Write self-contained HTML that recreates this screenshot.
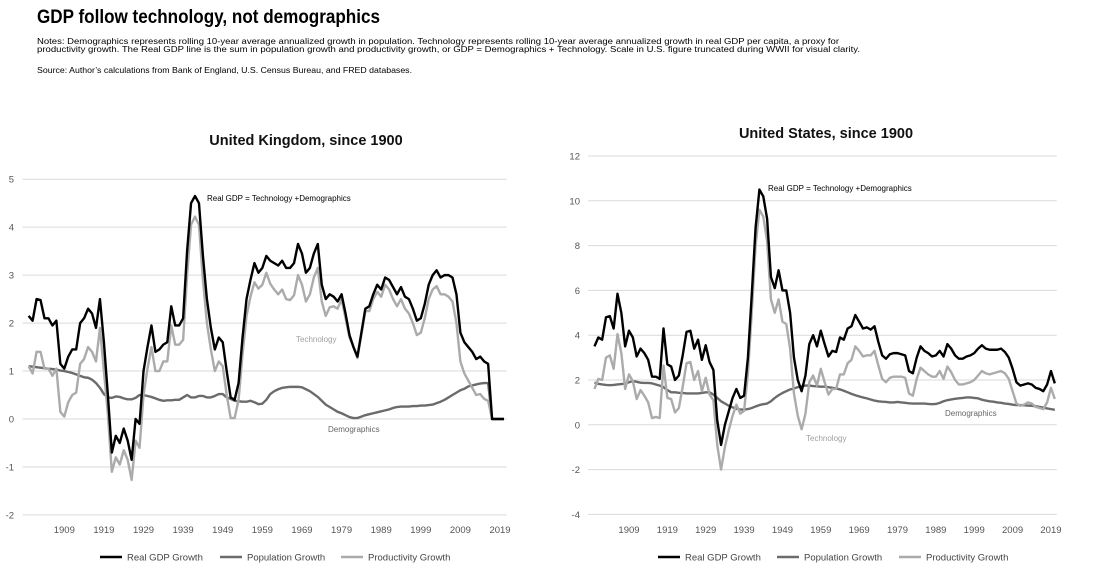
<!DOCTYPE html>
<html><head><meta charset="utf-8"><style>
html,body{margin:0;padding:0;background:#fff;}
svg{display:block;font-family:"Liberation Sans",sans-serif;}
</style></head><body>
<svg id="root" width="1100" height="571" viewBox="0 0 1100 571">
<text x="37" y="23" font-size="19" font-weight="bold" textLength="343" lengthAdjust="spacingAndGlyphs">GDP follow technology, not demographics</text>
<text x="37" y="44" font-size="8.6" textLength="802" lengthAdjust="spacingAndGlyphs">Notes: Demographics represents rolling 10-year average annualized growth in population. Technology represents rolling 10-year average annualized growth in real GDP per capita, a proxy for</text>
<text x="37" y="52" font-size="8.6" textLength="823" lengthAdjust="spacingAndGlyphs">productivity growth. The Real GDP line is the sum in population growth and productivity growth, or GDP = Demographics + Technology. Scale in U.S. figure truncated during WWII for visual clarity.</text>
<text x="37" y="73" font-size="8.6" textLength="375" lengthAdjust="spacingAndGlyphs">Source: Author’s calculations from Bank of England, U.S. Census Bureau, and FRED databases.</text>
<g id="uk"></g>
<g id="us"></g>
</svg>
<script>
const years = []; for (let y = 1900; y <= 2020; y++) years.push(y);
const xTickLabels = [1909,1919,1929,1939,1949,1959,1969,1979,1989,1999,2009,2019];
const ukYTicks = [5,4,3,2,1,0,-1,-2];
const usYTicks = [12,10,8,6,4,2,0,-2,-4];
const ukGdp = [2.15,2.05,2.5,2.48,2.1,2.1,1.95,2.05,1.15,1.05, 1.3,1.45,1.45,2.0,2.1,2.3,2.2,1.9,2.5,1.6, 0.5,-0.7,-0.35,-0.5,-0.2,-0.45,-0.85,0,-0.1,1.0, 1.5,1.95,1.4,1.45,1.55,1.6,2.35,1.95,1.95,2.1, 3.5,4.5,4.65,4.5,3.4,2.5,1.9,1.45,1.7,1.6, 1.0,0.45,0.4,0.75,1.7,2.5,2.9,3.25,3.05,3.15, 3.4,3.3,3.25,3.2,3.3,3.15,3.15,3.25,3.65,3.45, 3.05,3.15,3.45,3.65,2.8,2.5,2.6,2.55,2.45,2.6, 2.2,1.75,1.5,1.3,1.8,2.3,2.35,2.6,2.8,2.7, 2.95,2.9,2.75,2.6,2.75,2.55,2.5,2.3,2.05,2.1, 2.4,2.8,3.0,3.1,2.95,3.0,3.0,2.95,2.6,1.8, 1.6,1.5,1.4,1.25,1.3,1.2,1.15,0,0,0,0];
const ukDemo = [1.1,1.09,1.08,1.07,1.06,1.05,1.04,1.03,1.01,1.0, 0.98,0.96,0.93,0.9,0.87,0.86,0.82,0.75,0.65,0.52, 0.45,0.44,0.47,0.46,0.43,0.41,0.41,0.44,0.5,0.5, 0.48,0.46,0.43,0.4,0.38,0.39,0.39,0.4,0.4,0.45, 0.5,0.45,0.45,0.48,0.48,0.45,0.45,0.48,0.52,0.52, 0.45,0.42,0.38,0.37,0.36,0.36,0.38,0.35,0.31,0.32, 0.4,0.52,0.58,0.62,0.65,0.66,0.67,0.67,0.67,0.66, 0.62,0.58,0.52,0.46,0.38,0.3,0.25,0.2,0.15,0.12, 0.08,0.04,0.02,0.02,0.05,0.08,0.1,0.12,0.14,0.16, 0.18,0.2,0.23,0.25,0.26,0.26,0.26,0.27,0.27,0.28, 0.28,0.29,0.3,0.33,0.36,0.4,0.45,0.5,0.55,0.6, 0.63,0.68,0.7,0.72,0.74,0.75,0.75,0,0,0,0];
const ukTech = [1.1,0.95,1.4,1.4,1.05,1.05,0.9,1.05,0.15,0.05, 0.35,0.5,0.55,1.15,1.25,1.5,1.4,1.2,1.9,1.0, 0.1,-1.1,-0.8,-0.95,-0.65,-0.85,-1.27,-0.45,-0.6,0.5, 1.05,1.5,1.0,1.0,1.2,1.2,1.95,1.55,1.55,1.65, 3.0,4.05,4.22,4.05,2.9,2.0,1.45,1.0,1.2,1.1, 0.5,0.02,0.02,0.4,1.35,2.15,2.55,2.85,2.72,2.8, 3.05,2.82,2.7,2.6,2.7,2.5,2.48,2.58,3.0,2.8, 2.45,2.6,2.95,3.15,2.45,2.15,2.33,2.35,2.3,2.5, 2.1,1.7,1.5,1.27,1.75,2.25,2.25,2.5,2.65,2.55, 2.8,2.7,2.5,2.35,2.5,2.3,2.2,2.0,1.75,1.8, 2.1,2.5,2.7,2.77,2.6,2.6,2.55,2.45,2.0,1.2, 0.95,0.8,0.65,0.5,0.52,0.42,0.38,0,0,0,0];
const usGdp = [3.5,3.9,3.8,4.8,4.85,4.3,5.85,5.0,3.5,4.2, 3.9,3.05,3.4,3.2,2.9,2.15,2.15,2.05,4.3,2.7, 2.6,2.0,2.2,3.1,4.15,4.2,3.4,3.8,2.9,3.55, 2.8,2.45,0.2,-0.9,0,0.6,1.2,1.6,1.2,1.3, 3.0,5.8,8.8,10.5,10.2,9.2,6.6,6.1,6.9,6.0, 6.0,5.0,3.0,2.0,1.5,2.2,3.6,4.0,3.5,4.2, 3.6,3.05,3.3,3.25,3.9,3.8,4.3,4.4,4.9,4.6, 4.3,4.35,4.25,4.4,3.7,3.1,2.95,3.15,3.2,3.2, 3.15,3.1,2.4,2.3,3.0,3.5,3.3,3.2,3.05,3.1, 3.3,3.05,3.6,3.4,3.1,2.95,2.95,3.05,3.1,3.2, 3.4,3.55,3.4,3.35,3.35,3.35,3.4,3.25,3.0,2.5, 1.9,1.75,1.8,1.85,1.8,1.65,1.6,1.5,1.8,2.4,1.85];
const usDemo = [1.88,1.83,1.8,1.78,1.77,1.78,1.8,1.82,1.84,1.9, 1.95,1.92,1.88,1.87,1.87,1.85,1.8,1.75,1.68,1.55, 1.45,1.45,1.43,1.42,1.4,1.4,1.4,1.4,1.42,1.45, 1.45,1.35,1.2,1.05,0.95,0.85,0.78,0.72,0.68,0.68, 0.7,0.75,0.82,0.88,0.92,0.95,1.05,1.2,1.32,1.42, 1.5,1.58,1.62,1.68,1.72,1.75,1.75,1.73,1.72,1.7, 1.7,1.68,1.65,1.62,1.58,1.52,1.45,1.38,1.32,1.27, 1.22,1.18,1.13,1.08,1.05,1.03,1.02,1.0,1.0,1.02, 1.0,0.98,0.96,0.95,0.95,0.95,0.95,0.93,0.92,0.93, 0.98,1.05,1.1,1.13,1.16,1.18,1.2,1.22,1.22,1.2, 1.18,1.12,1.08,1.05,1.03,1.0,0.98,0.95,0.93,0.9, 0.88,0.88,0.87,0.86,0.85,0.83,0.8,0.77,0.73,0.7,0.67];
const usTech = [1.6,2.05,2.0,3.0,3.1,2.5,4.05,3.2,1.6,2.25, 1.95,1.15,1.55,1.3,1.0,0.3,0.35,0.3,2.65,1.2, 1.15,0.55,0.75,1.7,2.75,2.8,2.0,2.4,1.5,2.1, 1.35,1.1,-0.9,-2.0,-1.0,-0.25,0.4,0.9,0.5,0.62, 2.3,5.0,8.0,9.6,9.3,8.2,5.6,5.0,5.6,4.6, 4.5,3.4,1.4,0.4,-0.2,0.5,1.9,2.2,1.75,2.5, 1.9,1.35,1.6,1.6,2.25,2.25,2.75,2.9,3.5,3.3, 3.05,3.1,3.1,3.3,2.65,2.05,1.9,2.1,2.15,2.15, 2.15,2.1,1.4,1.3,2.05,2.55,2.4,2.25,2.15,2.15, 2.4,2.05,2.6,2.35,2.0,1.8,1.8,1.85,1.9,2.0, 2.2,2.4,2.3,2.25,2.3,2.35,2.4,2.3,2.05,1.5, 0.95,0.85,0.9,1.0,0.95,0.8,0.75,0.7,1.0,1.65,1.15];

const NS = 'http://www.w3.org/2000/svg';
function mk(parent, tag, attrs, text) {
  const e = document.createElementNS(NS, tag);
  for (const k in attrs) e.setAttribute(k, attrs[k]);
  if (text !== undefined) e.textContent = text;
  parent.appendChild(e); return e;
}
function drawChart(g, cfg) {
  const xS = y => cfg.x1909 + (y - 1909) * cfg.perYear;
  const yS = v => cfg.y0 - v * cfg.perUnit;
  const t = mk(g, 'text', {x: cfg.titleX, y: cfg.titleY, 'font-size': 14.5, 'font-weight': 'bold', 'text-anchor': 'middle', fill: '#111'}, cfg.title);
  
  
  cfg.yTicks.forEach(v => {
    const l = mk(g, 'line', {x1: cfg.gx0, x2: cfg.gx1, y1: yS(v), y2: yS(v), stroke: '#d9d9d9', 'stroke-width': 1});
    
    
    const tx = mk(g, 'text', {x: cfg.ylabX, y: yS(v) + 3.5, 'font-size': 9.5, 'text-anchor': 'end', fill: '#555'}, String(v));
    
    
  });
  xTickLabels.forEach(yr => {
    const tx = mk(g, 'text', {x: xS(yr), y: 533, 'font-size': 9.5, 'text-anchor': 'middle', fill: '#555'}, String(yr));
    
    
  });
  const series = [
    {vals: cfg.demo, color: '#6b6b6b', name: 'population-growth-line'},
    {vals: cfg.tech, color: '#ababab', name: 'productivity-growth-line'},
    {vals: cfg.gdp, color: '#000', name: 'real-gdp-growth-line'}
  ];
  series.forEach(s => {
    const d = s.vals.map((v, i) => (i ? 'L' : 'M') + xS(years[i]).toFixed(2) + ',' + yS(v).toFixed(2)).join(' ');
    const p = mk(g, 'path', {d: d, fill: 'none', stroke: s.color, 'stroke-width': 2.4, 'stroke-linejoin': 'round'});
    
    
  });
  cfg.annots.forEach(a => {
    const tx = mk(g, 'text', {x: a.x, y: a.y, 'font-size': 8, fill: a.c}, a.t);
    
    
  });
  cfg.legend.forEach(L => {
    const gl = mk(g, 'g', {});
    
    
    mk(gl, 'line', {x1: L.x, x2: L.x + 22, y1: 557, y2: 557, stroke: L.c, 'stroke-width': 2.4});
    mk(gl, 'text', {x: L.x + 27, y: 560.5, 'font-size': 9.5, fill: '#444'}, L.t);
  });
}
drawChart(document.getElementById('uk'), {
  title: 'United Kingdom, since 1900', titleX: 306, titleY: 145,
  x1909: 64.3, perYear: 3.961, y0: 419, perUnit: 47.96, gx0: 22.7, gx1: 506.7, ylabX: 14,
  yTicks: ukYTicks, gdp: ukGdp, demo: ukDemo, tech: ukTech,
  annots: [{x: 207, y: 201, t: 'Real GDP = Technology +Demographics', c: '#000', n: 'gdp-annotation'},
           {x: 296, y: 342, t: 'Technology', c: '#a0a0a0', n: 'technology-annotation'},
           {x: 328, y: 432, t: 'Demographics', c: '#666', n: 'demographics-annotation'}],
  legend: [{x: 100, c: '#000', t: 'Real GDP Growth'}, {x: 220, c: '#6b6b6b', t: 'Population Growth'}, {x: 341, c: '#ababab', t: 'Productivity Growth'}]
});
drawChart(document.getElementById('us'), {
  title: 'United States, since 1900', titleX: 826, titleY: 138,
  x1909: 629, perYear: 3.836, y0: 424.8, perUnit: 22.4, gx0: 588.3, gx1: 1056.7, ylabX: 580,
  yTicks: usYTicks, gdp: usGdp, demo: usDemo, tech: usTech,
  annots: [{x: 768, y: 191, t: 'Real GDP = Technology +Demographics', c: '#000', n: 'gdp-annotation'},
           {x: 806, y: 441, t: 'Technology', c: '#a0a0a0', n: 'technology-annotation'},
           {x: 945, y: 416, t: 'Demographics', c: '#666', n: 'demographics-annotation'}],
  legend: [{x: 658, c: '#000', t: 'Real GDP Growth'}, {x: 777, c: '#6b6b6b', t: 'Population Growth'}, {x: 899, c: '#ababab', t: 'Productivity Growth'}]
});
</script>
</body></html>
